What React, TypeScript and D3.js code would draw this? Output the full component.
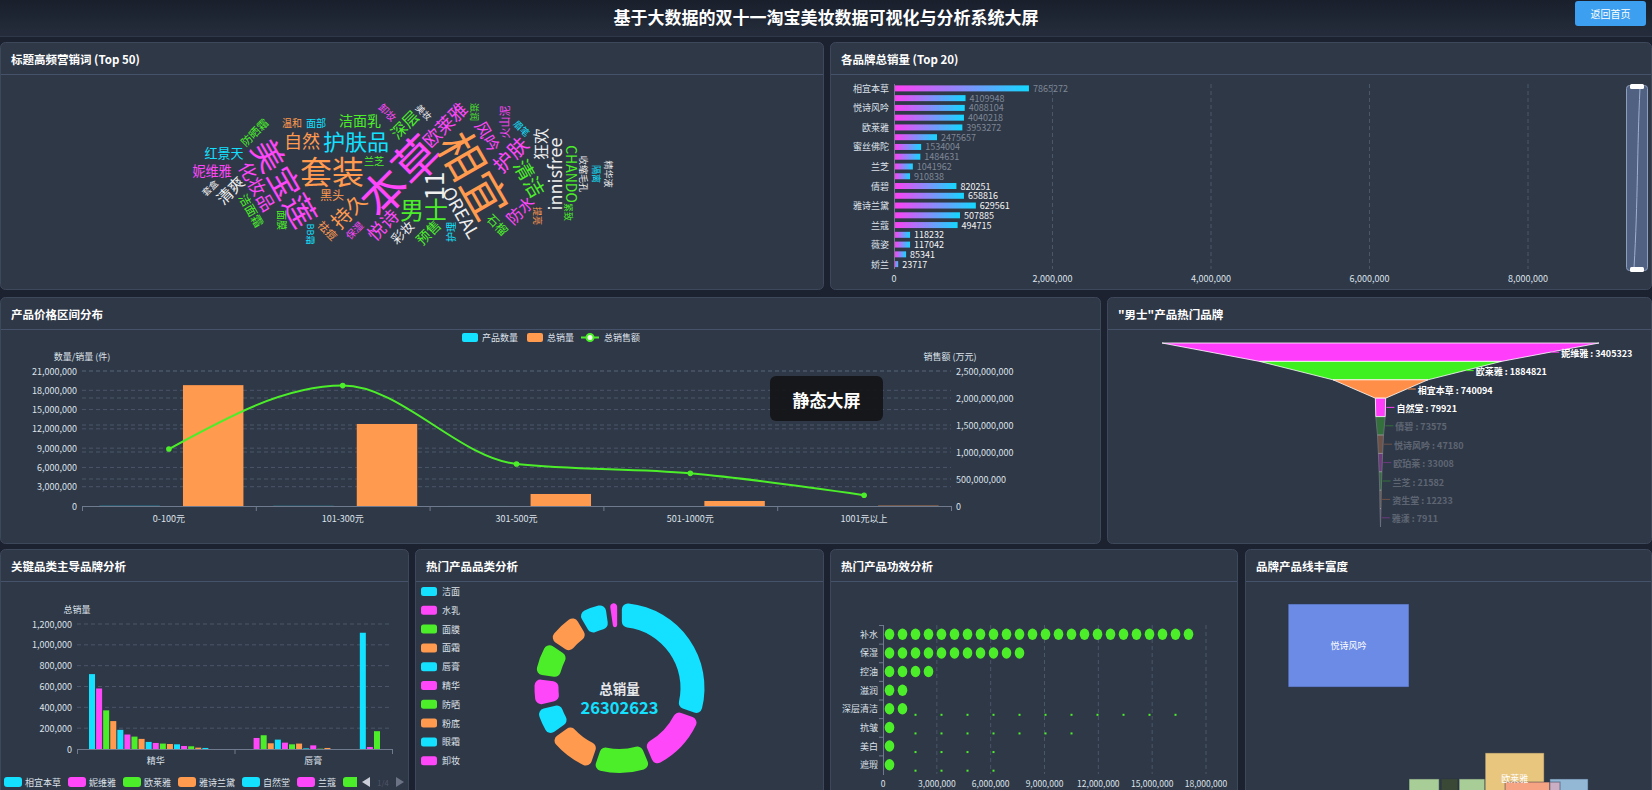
import React, { useMemo } from 'react';
import * as d3 from 'd3';

const FONT = '"Microsoft YaHei","Noto Sans CJK SC","Noto Sans",sans-serif';
const CYAN = '#13e1ff';
const MAGENTA = '#ff47fa';
const GREEN = '#4cee2a';
const ORANGE = '#ff9a4f';
const WHITE = '#eeeeee';
const PALETTE = [CYAN, MAGENTA, GREEN, ORANGE];
const HUES: Record<string, string> = { c: CYAN, m: MAGENTA, g: GREEN, o: ORANGE, w: WHITE };
const FUNNEL_COLORS = ['#ff3dfb', '#3ff021', '#ff8f48'];
const FUNNEL_ACTIVE = 4;

const PAGE_BG = '#1c2230';
const PANEL_BG = '#2f3847';
const PANEL_BORDER = '#3e485b';
const GRID = '#4b566b';
const AXIS_TEXT = '#dde2ea';
const AXIS_LINE = '#6f7a8e';

// ---------------- data ----------------
const pageTitle = '基于大数据的双十一淘宝美妆数据可视化与分析系统大屏';
const backLabel = '返回首页';
const panelTitles = ['标题高频营销词 (Top 50)', '各品牌总销量 (Top 20)', '产品价格区间分布', '"男士"产品热门品牌', '关键品类主导品牌分析', '热门产品品类分析', '热门产品功效分析', '品牌产品线丰富度'];

const cloudWords = ['本草', '相宜', '套装', '美宝莲', '11', '男士', '护肤品', '持久', '护肤', '清洁', '自然', '欧莱雅', 'innisfree', 'OREAL', '化妆品', '悦诗', '风吟', '深层', '狂欢', '防水', '清爽', '预售', '洁面乳', '妮维雅', 'CHANDO', '红景天', '彩妆', '黑头', '洁面霜', '石榴', '防晒霜', '火山泥', '兰芝', '面部', '温和', '护理', '祛痘', '面膜', '卸妆', '保湿', '美妆', '收缩毛孔', '眉笔', '提亮', '隔离', '套盒', 'BB霜', '精华液', '滋润', '紧致'];
const cloudFreq = [4468, 4425, 3104, 3087, 2521, 2330, 2140, 1952, 1940, 1933, 1751, 1745, 1738, 1731, 1726, 1720, 1553, 1547, 1541, 1536, 1530, 1362, 1355, 1263, 1350, 1258, 1254, 1166, 1160, 1155, 1068, 1063, 975, 971, 968, 965, 1060, 962, 960, 958, 874, 872, 871, 870, 869, 868, 867, 866, 865, 864];
const cloudAngles = [-45, 60, 0, 60, -90, 0, 0, -45, -45, 60, 0, -45, -90, 60, 60, -45, 60, -45, -90, -45, -45, -45, 0, 0, 90, 0, -45, 0, 60, 45, -45, -90, 0, 0, 0, -90, 45, 90, 45, -45, 45, 90, 45, 90, 90, -45, 90, 90, 90, 90];
const cloudHues = ['m', 'o', 'o', 'm', 'w', 'g', 'c', 'o', 'm', 'g', 'o', 'm', 'w', 'w', 'm', 'm', 'm', 'g', 'w', 'm', 'w', 'g', 'g', 'm', 'g', 'c', 'w', 'o', 'g', 'g', 'g', 'm', 'g', 'c', 'o', 'c', 'o', 'g', 'm', 'm', 'w', 'w', 'c', 'o', 'c', 'w', 'c', 'w', 'g', 'g'];

const brandNames = ['相宜本草', '美宝莲', '悦诗风吟', '妮维雅', '欧莱雅', '自然堂', '蜜丝佛陀', '佰草集', '兰芝', '美加净', '倩碧', '资生堂', '雅诗兰黛', '植村秀', '兰蔻', '欧珀莱', '薇姿', '雅漾', '娇兰'];
const brandSales = [7865272, 4109948, 4088104, 4040218, 3953272, 2475657, 1534004, 1484631, 1041962, 910838, 820251, 658816, 629561, 507885, 494715, 118232, 117042, 85341, 23717];
const brandBarShown = [1690000, 890000, 880000, 870000, 850000, 530000, 330000, 320000, 225000, 190000, 775000, 870000, 1020000, 820000, 790000, 190000, 190000, 140000, 40000];

const priceRanges = ['0-100元', '101-300元', '301-500元', '501-1000元', '1001元以上'];
const productCounts = [28456, 19873, 4210, 2104, 986];
const totalVolume = [18800000, 12760000, 1870000, 780000, 50000];
const totalRevenue = [1055000000, 2230000000, 778000000, 605000000, 200000000];
const priceLegend = ['产品数量', '总销量', '总销售额'];

const menBrands = ['妮维雅', '欧莱雅', '相宜本草', '自然堂', '倩碧', '悦诗风吟', '欧珀莱', '兰芝', '资生堂', '雅漾'];
const menSales = [3405323, 1884821, 740094, 79921, 73575, 47180, 33008, 21582, 12233, 7911];

const keyCategories = ['精华', '唇膏'];
const keyBrands = ['相宜本草', '妮维雅', '欧莱雅', '雅诗兰黛', '自然堂', '兰蔻', '美宝莲', '悦诗风吟', '倩碧', '兰芝', '资生堂', '蜜丝佛陀', '佰草集', '植村秀', '娇兰', '薇姿', '美加净', '雅漾', '欧珀莱'];
const essenceSales = [719000, 581000, 371000, 268000, 184000, 139000, 119000, 97000, 68000, 58000, 52000, 48000, 45000, 29000, 26000, 13000, 10000, 0, 0];
const lipstickSales = [0, 106000, 132000, 55000, 90000, 61000, 45000, 52000, 6000, 35000, 3000, 10000, 0, 0, 0, 0, 1116000, 19000, 171000];
const keyLegendPage = '1/4';

const productCats = ['洁面', '水乳', '面膜', '面霜', '唇膏', '精华', '防晒', '粉底', '眼霜', '卸妆'];
const productCatSales = [8449000, 3527000, 3086000, 2571000, 1543000, 1469000, 1837000, 1837000, 1543000, 440623];
const donutLabel = '总销量';

const efficacyNames = ['补水', '保湿', '控油', '滋润', '深层清洁', '抗皱', '美白', '遮瑕'];
const efficacySales = [17300000, 7950000, 2900000, 1450000, 16700000, 10900000, 6500000, 6500000];
const efficacyRendered = [24, 11, 4, 2, 2, 1, 1, 1];

const lineTileBrands = ['悦诗风吟', '兰芝', '雪花秀', '后', '美宝莲', '欧莱雅', '兰蔻', '资生堂', '植村秀'];
const lineTileX0 = [0.106, 0.403, 0.482, 0.526, 0.590, 0.590, 0.639, 0.749, 0.749];
const lineTileX1 = [0.403, 0.477, 0.523, 0.590, 0.614, 0.735, 0.774, 0.843, 0.774];
const lineTileY0 = [0.228, 0.954, 0.954, 0.954, 0.954, 0.846, 0.967, 0.954, 0.967];
const lineTileY1 = [0.573, 1.1, 1.1, 1.1, 1.1, 1.062, 1.1, 1.1, 1.1];
const lineTileColors = ['#6b8be6', '#a8cd97', '#3a4935', '#a8cd97', '#ecd67b', '#e9c67e', '#f5a382', '#92b8d6', '#c9aec4'];

// ---------------- word cloud layout ----------------
type CloudItem = { text: string; size: number; rot: number; color: string };
type Placed = CloudItem & { x: number; y: number };

function layoutCloud(items: CloudItem[], bx: number, by: number, bw: number, bh: number, cxp: number, cyp: number, ell: number, t0: number): Placed[] {
  if (typeof document === 'undefined') return [];
  const cell = 2;
  const GW = Math.floor(bw / cell), GH = Math.floor(bh / cell);
  const grid = new Uint8Array(GW * GH);
  const canvas = document.createElement('canvas');
  const ctx = canvas.getContext('2d', { willReadFrequently: true }) as CanvasRenderingContext2D;
  const gcx = Math.round((cxp - bx) / cell), gcy = Math.round((cyp - by) / cell);
  const out: Placed[] = [];
  for (const it of items) {
    const font = `${it.size}px ${FONT}`;
    ctx.setTransform(1, 0, 0, 1, 0, 0);
    ctx.font = font;
    const tw = ctx.measureText(it.text).width;
    const th = it.size * 1.4;
    const a = (it.rot * Math.PI) / 180;
    let w = Math.ceil(Math.abs(tw * Math.cos(a)) + Math.abs(th * Math.sin(a))) + 6;
    let h = Math.ceil(Math.abs(tw * Math.sin(a)) + Math.abs(th * Math.cos(a))) + 6;
    w += w % 2; h += h % 2;
    canvas.width = w; canvas.height = h;
    ctx.setTransform(1, 0, 0, 1, 0, 0);
    ctx.clearRect(0, 0, w, h);
    ctx.font = font; ctx.textAlign = 'center'; ctx.textBaseline = 'middle'; ctx.fillStyle = '#000';
    ctx.translate(w / 2, h / 2); ctx.rotate(a); ctx.fillText(it.text, 0, 0);
    const img = ctx.getImageData(0, 0, w, h).data;
    const core = new Set<number>();
    const dil = new Set<number>();
    const hx = w / 2, hy = h / 2;
    for (let y = 0; y < h; y++) for (let x = 0; x < w; x++) {
      if (img[(y * w + x) * 4 + 3] > 40) {
        const cx = Math.floor((x - hx) / cell), cy = Math.floor((y - hy) / cell);
        core.add((cx + 1000) * 4000 + (cy + 1000));
        for (let dy = -1; dy <= 1; dy++) for (let dx = -1; dx <= 1; dx++) dil.add((cx + dx + 1000) * 4000 + (cy + dy + 1000));
      }
    }
    const coreArr: number[] = []; core.forEach(k => coreArr.push(Math.floor(k / 4000) - 1000, (k % 4000) - 1000));
    const dilArr: number[] = []; dil.forEach(k => dilArr.push(Math.floor(k / 4000) - 1000, (k % 4000) - 1000));
    const fits = (px: number, py: number) => {
      for (let i = 0; i < coreArr.length; i += 2) {
        const x = px + coreArr[i], y = py + coreArr[i + 1];
        if (x < 0 || y < 0 || x >= GW || y >= GH) return false;
        if (grid[y * GW + x]) return false;
      }
      return true;
    };
    const maxR = Math.ceil(GW / ell) + 2;
    let done = false;
    for (let r = 0; r < maxR && !done; r++) {
      const n = r === 0 ? 1 : Math.ceil(Math.PI * r * (1 + ell));
      for (let i = 0; i < n; i++) {
        const t = t0 + (2 * Math.PI * i) / n;
        const px = gcx + Math.round(r * ell * Math.cos(t));
        const py = gcy + Math.round(r * Math.sin(t));
        if (fits(px, py)) {
          for (let j = 0; j < dilArr.length; j += 2) {
            const x = px + dilArr[j], y = py + dilArr[j + 1];
            if (x >= 0 && y >= 0 && x < GW && y < GH) grid[y * GW + x] = 1;
          }
          out.push({ ...it, x: bx + px * cell, y: by + py * cell });
          done = true;
          break;
        }
      }
    }
  }
  return out;
}

const fmt = d3.format(',');

function Panel({ x, y, w, h, title }: { x: number; y: number; w: number; h: number; title: string }) {
  return (
    <g>
      <rect x={x + 0.5} y={y + 0.5} width={w - 1} height={h - 1} rx={5} fill={PANEL_BG} stroke={PANEL_BORDER} />
      <line x1={x + 1} x2={x + w - 1} y1={y + 32.5} y2={y + 32.5} stroke="#46516a" />
      <text x={x + 11} y={y + 17} dominantBaseline="central" fill="#fff" fontSize={11.5} fontWeight="bold">{title}</text>
    </g>
  );
}

export default function App() {
  const cloud = useMemo(() => {
    const sz = d3.scaleLinear().domain([d3.min(cloudFreq)!, d3.max(cloudFreq)!]).range([9, 46]);
    const items: CloudItem[] = cloudWords.map((t, i) => ({ text: t, size: sz(cloudFreq[i]), rot: cloudAngles[i], color: HUES[cloudHues[i]], f: cloudFreq[i] } as any));
    items.sort((a: any, b: any) => b.f - a.f);
    return layoutCloud(items, 4, 76, 816, 212, 398, 174, 3.0, 0);
  }, []);

  // P2 brand bars
  const bX = d3.scaleLinear().domain([0, 8e6]).range([894, 1528]);
  const bY = d3.scaleBand<string>().domain(brandNames).range([83.5, 269]);

  // P3 price
  const pX = d3.scaleBand<string>().domain(priceRanges).range([82, 951]);
  const pYL = d3.scaleLinear().domain([0, 21e6]).range([506, 371]);
  const pYR = d3.scaleLinear().domain([0, 2.5e9]).range([506, 371]);
  const pbw = pX.bandwidth();
  const barW = (pbw * 0.8) / 2.3;
  const revLine = d3.line<number>().x((_, i) => pX(priceRanges[i])! + pbw / 2).y(v => pYR(v)).curve(d3.curveMonotoneX)(totalRevenue) || '';

  // P4 funnel
  const fW = d3.scaleLinear().domain([0, d3.max(menSales)!]).range([0, 437]);
  const fY = d3.scaleBand<number>().domain(d3.range(menSales.length)).range([343, 527]);
  const fcx = 1380.5;

  // P5 grouped bars
  const kX = d3.scaleBand<string>().domain(keyCategories).range([77, 392]);
  const kIn = d3.scaleBand<number>().domain(d3.range(keyBrands.length)).range([12, kX.bandwidth() - 12]).paddingInner(0.15);
  const kY = d3.scaleLinear().domain([0, 1.2e6]).range([749, 624]);
  const keySeries = [essenceSales, lipstickSales];
  const LEGEND_CLIP = 357;
  let lx = 4;
  const keyLegend = keyBrands.map((n, i) => { const x = lx; lx += 21 + n.length * 9 + 7; return { n, x, i }; }).filter(d => d.x < LEGEND_CLIP);

  // P6 donut
  const pie = d3.pie<number>().sort(null).padAngle(0.045)(productCatSales);
  const arcGen = d3.arc<d3.PieArcDatum<number>>().innerRadius(61).outerRadius(85).cornerRadius(6);
  const donutTotal = d3.sum(productCatSales);

  // P7 efficacy
  const eX = d3.scaleLinear().domain([0, 18e6]).range([883, 1206]);
  const eY = d3.scaleBand<string>().domain(efficacyNames).range([625, 774]);
  const pitch = 13;

  // P8 tiles
  const tX = d3.scaleLinear().domain([0, 1]).range([1245, 1652]);
  const tY = d3.scaleLinear().domain([0, 1]).range([549, 790]);

  const panels = [
    { x: 0, y: 42, w: 824, h: 248 },
    { x: 830, y: 42, w: 822, h: 248 },
    { x: 0, y: 297, w: 1101, h: 247 },
    { x: 1107, y: 297, w: 545, h: 247 },
    { x: 0, y: 549, w: 409, h: 260 },
    { x: 415, y: 549, w: 409, h: 260 },
    { x: 830, y: 549, w: 408, h: 260 },
    { x: 1245, y: 549, w: 407, h: 260 },
  ];

  return (
    <svg width={1652} height={790} style={{ position: 'absolute', left: 0, top: 0, fontFamily: FONT }}>
      <defs>
        <linearGradient id="hdr" x1="0" y1="0" x2="0" y2="1">
          <stop offset="0" stopColor="#191f2b" />
          <stop offset="1" stopColor="#252d3c" />
        </linearGradient>
        <linearGradient id="brandGrad" x1="0" y1="0" x2="1" y2="0">
          <stop offset="0" stopColor="#ff3ff5" />
          <stop offset="1" stopColor="#12d8ff" />
        </linearGradient>
        <clipPath id="keyLegendClip"><rect x={0} y={770} width={LEGEND_CLIP} height={25} /></clipPath>
        <clipPath id="p8clip"><rect x={1246} y={583} width={405} height={210} /></clipPath>
      </defs>
      <rect x={0} y={0} width={1652} height={790} fill={PAGE_BG} />
      <rect x={0} y={0} width={1652} height={36} fill="url(#hdr)" />
      <line x1={0} x2={1652} y1={36.5} y2={36.5} stroke="#2f3849" />
      <text x={826} y={16} textAnchor="middle" dominantBaseline="central" fill="#fff" fontSize={17} fontWeight="bold">{pageTitle}</text>
      <rect x={1575} y={1} width={71} height={25} rx={3} fill="#3d9ff0" />
      <text x={1610.5} y={13.5} textAnchor="middle" dominantBaseline="central" fill="#fff" fontSize={10}>{backLabel}</text>

      {panels.map((p, i) => <Panel key={i} {...p} title={panelTitles[i]} />)}

      {/* P1 word cloud */}
      <g>
        {cloud.map((w, i) => (
          <text key={i} transform={`translate(${w.x},${w.y}) rotate(${w.rot})`} textAnchor="middle" dominantBaseline="central" fontSize={w.size} fill={w.color}>{w.text}</text>
        ))}
      </g>

      {/* P2 brand totals */}
      <g>
        {bX.ticks(4).map(t => (
          <g key={t}>
            {t > 0 && <line x1={bX(t)} x2={bX(t)} y1={84} y2={269} stroke={GRID} strokeDasharray="4 3" />}
            <text x={bX(t)} y={278} textAnchor="middle" dominantBaseline="central" fontSize={9} fill={AXIS_TEXT}>{fmt(t)}</text>
          </g>
        ))}
        <line x1={894.5} x2={894.5} y1={84} y2={269} stroke={AXIS_LINE} />
        {brandNames.map((n, i) => {
          const yc = bY(n)! + bY.bandwidth() / 2;
          const shown = brandBarShown[i];
          const settled = shown >= brandSales[i] * 0.5;
          return (
            <g key={n}>
              <rect x={bX(0) + 1} y={yc - 3} width={bX(shown) - bX(0)} height={6} fill="url(#brandGrad)" />
              <text x={bX(shown) + 5} y={yc} dominantBaseline="central" fontSize={9} fill={settled ? '#f4f4f4' : '#7e8796'}>{brandSales[i]}</text>
              {i % 2 === 0 && <text x={889} y={yc} textAnchor="end" dominantBaseline="central" fontSize={9} fill={AXIS_TEXT}>{n}</text>}
            </g>
          );
        })}
        <rect x={1626.5} y={85.5} width={21} height={185} rx={3} fill="#56688c" fillOpacity={0.85} stroke="#8d9dbd" />
        <path d="M1640,88 C1637,150 1638,200 1634,268" stroke="#9fb0d0" fill="none" strokeWidth={1} />
        <rect x={1630} y={84} width={14} height={5} rx={1.5} fill="#fff" />
        <rect x={1630} y={267} width={14} height={5} rx={1.5} fill="#fff" />
      </g>

      {/* P3 price distribution */}
      <g>
        {d3.range(0, 21e6 + 1, 3e6).map(t => (
          <g key={'l' + t}>
            {t > 0 && <line x1={82} x2={951} y1={pYL(t)} y2={pYL(t)} stroke={GRID} strokeDasharray="4 3" />}
            <text x={77} y={pYL(t)} textAnchor="end" dominantBaseline="central" fontSize={9} fill={AXIS_TEXT}>{fmt(t)}</text>
          </g>
        ))}
        {pYR.ticks(5).map(t => (
          <g key={'r' + t}>
            {t > 0 && <line x1={82} x2={951} y1={pYR(t)} y2={pYR(t)} stroke={GRID} strokeDasharray="4 3" />}
            <text x={956} y={pYR(t)} dominantBaseline="central" fontSize={9} fill={AXIS_TEXT}>{fmt(t)}</text>
          </g>
        ))}
        <text x={82} y={356} textAnchor="middle" dominantBaseline="central" fontSize={9} fill={AXIS_TEXT}>数量/销量 (件)</text>
        <text x={950} y={356} textAnchor="middle" dominantBaseline="central" fontSize={9} fill={AXIS_TEXT}>销售额 (万元)</text>
        <line x1={82} x2={951} y1={506.5} y2={506.5} stroke={AXIS_LINE} />
        {priceRanges.map((c, i) => {
          const x0 = pX(c)!;
          return (
            <g key={c}>
              <line x1={x0 + 0.5} x2={x0 + 0.5} y1={506} y2={511} stroke={AXIS_LINE} />
              <text x={x0 + pbw / 2} y={518} textAnchor="middle" dominantBaseline="central" fontSize={9} fill={AXIS_TEXT}>{c}</text>
              <rect x={x0 + pbw * 0.1} y={pYL(productCounts[i])} width={barW} height={506 - pYL(productCounts[i])} fill={CYAN} />
              <rect x={x0 + pbw * 0.1 + barW * 1.3 + 5} y={pYL(totalVolume[i])} width={barW} height={506 - pYL(totalVolume[i])} fill={ORANGE} />
            </g>
          );
        })}
        <line x1={951.5} x2={951.5} y1={506} y2={511} stroke={AXIS_LINE} />
        <path d={revLine} fill="none" stroke={GREEN} strokeWidth={2} />
        {totalRevenue.map((v, i) => <circle key={i} cx={pX(priceRanges[i])! + pbw / 2} cy={pYR(v)} r={2.8} fill={GREEN} />)}
        {/* legend */}
        <rect x={462} y={333} width={16} height={9} rx={2} fill={CYAN} />
        <text x={482} y={337.5} dominantBaseline="central" fontSize={9} fill={AXIS_TEXT}>{priceLegend[0]}</text>
        <rect x={527} y={333} width={16} height={9} rx={2} fill={ORANGE} />
        <text x={547} y={337.5} dominantBaseline="central" fontSize={9} fill={AXIS_TEXT}>{priceLegend[1]}</text>
        <line x1={581} x2={599} y1={337.5} y2={337.5} stroke={GREEN} strokeWidth={2} />
        <circle cx={590} cy={337.5} r={3.5} fill="#f4fff0" stroke={GREEN} strokeWidth={2} />
        <text x={604} y={337.5} dominantBaseline="central" fontSize={9} fill={AXIS_TEXT}>{priceLegend[2]}</text>
        <rect x={770} y={376} width={113} height={45} rx={6} fill="#131518" fillOpacity={0.92} />
        <text x={826.5} y={399.5} textAnchor="middle" dominantBaseline="central" fontSize={17} fontWeight="bold" fill="#fff">静态大屏</text>
      </g>

      {/* P4 funnel */}
      <g>
        {menSales.map((v, i) => {
          const top = fY(i)!, bot = top + fY.bandwidth();
          const wt = fW(v), wb = i < menSales.length - 1 ? fW(menSales[i + 1]) : 0;
          const pts = [[fcx - wt / 2, top], [fcx + wt / 2, top], [fcx + wb / 2, bot], [fcx - wb / 2, bot]].map(p => p.join(',')).join(' ');
          const active = i < FUNNEL_ACTIVE;
          const color = FUNNEL_COLORS[i % 3];
          const mx = fcx + (wt + wb) / 4;
          const my = (top + bot) / 2;
          return (
            <g key={i} opacity={active ? 1 : 0.3}>
              <polygon points={pts} fill={color} stroke="rgba(255,255,255,0.8)" strokeWidth={1} />
              <line x1={mx + 1} x2={mx + 9} y1={my} y2={my} stroke={color} />
              <text x={mx + 11} y={my + 1} dominantBaseline="central" fontSize={9} fontWeight="bold" fill={active ? '#fff' : '#c9ced8'}>{`${menBrands[i]} : ${v}`}</text>
            </g>
          );
        })}
      </g>

      {/* P5 key categories */}
      <g>
        {kY.ticks(6).map(t => (
          <g key={t}>
            {t > 0 && <line x1={77} x2={392} y1={kY(t)} y2={kY(t)} stroke={GRID} strokeDasharray="4 3" />}
            <text x={72} y={kY(t)} textAnchor="end" dominantBaseline="central" fontSize={9} fill={AXIS_TEXT}>{fmt(t)}</text>
          </g>
        ))}
        <text x={77} y={609} textAnchor="middle" dominantBaseline="central" fontSize={9} fill={AXIS_TEXT}>总销量</text>
        <line x1={77} x2={392} y1={749.5} y2={749.5} stroke={AXIS_LINE} />
        {keyCategories.map((c, ci) => {
          const x0 = kX(c)!;
          return (
            <g key={c}>
              <line x1={x0 + 0.5} x2={x0 + 0.5} y1={749} y2={754} stroke={AXIS_LINE} />
              <text x={x0 + kX.bandwidth() / 2} y={760} textAnchor="middle" dominantBaseline="central" fontSize={9} fill={AXIS_TEXT}>{c}</text>
              {keyBrands.map((b, si) => {
                const v = keySeries[ci][si];
                return <rect key={b} x={x0 + kIn(si)!} y={kY(v)} width={kIn.bandwidth()} height={749 - kY(v)} fill={PALETTE[si % 4]} />;
              })}
            </g>
          );
        })}
        <line x1={392.5} x2={392.5} y1={749} y2={754} stroke={AXIS_LINE} />
        <g clipPath="url(#keyLegendClip)">
          {keyLegend.map(({ n, x, i }) => (
            <g key={n}>
              <rect x={x} y={777} width={18} height={10} rx={3} fill={PALETTE[i % 4]} />
              {x + 21 + n.length * 9 <= LEGEND_CLIP && <text x={x + 21} y={782} dominantBaseline="central" fontSize={9} fill={AXIS_TEXT}>{n}</text>}
            </g>
          ))}
        </g>
        <path d="M362,782 L370,777 L370,787 Z" fill="#c9ced8" />
        <text x={383} y={782} textAnchor="middle" dominantBaseline="central" fontSize={7.5} fill="#4f5768">{keyLegendPage}</text>
        <path d="M404,782 L396,777 L396,787 Z" fill="#6b7385" />
      </g>

      {/* P6 donut */}
      <g>
        {productCats.map((c, i) => (
          <g key={c}>
            <rect x={421} y={587 + i * 18.8} width={16} height={9} rx={2.5} fill={PALETTE[i % 4]} />
            <text x={442} y={591.5 + i * 18.8} dominantBaseline="central" fontSize={9} fill={AXIS_TEXT}>{c}</text>
          </g>
        ))}
        <g transform="translate(619.5,688)">
          {pie.map((d, i) => <path key={i} d={arcGen(d) || ''} fill={PALETTE[i % 4]} />)}
          <text x={0} y={0} textAnchor="middle" dominantBaseline="central" fontSize={13.5} fontWeight="bold" fill="#e6e8ec">{donutLabel}</text>
          <text x={0} y={19} textAnchor="middle" dominantBaseline="central" fontSize={16.5} fontWeight="bold" fill={CYAN}>{donutTotal}</text>
        </g>
      </g>

      {/* P7 efficacy pictorial */}
      <g>
        {d3.range(0, 18e6 + 1, 3e6).map(t => (
          <g key={t}>
            {t > 0 && <line x1={eX(t)} x2={eX(t)} y1={625} y2={774} stroke={GRID} strokeDasharray="4 3" />}
            <text x={eX(t)} y={783} textAnchor="middle" dominantBaseline="central" fontSize={8.5} fill={AXIS_TEXT}>{fmt(t)}</text>
          </g>
        ))}
        <line x1={883.5} x2={883.5} y1={625} y2={775} stroke={AXIS_LINE} />
        {efficacyNames.map((n, i) => {
          const y0 = eY(n)!;
          const yc = y0 + eY.bandwidth() / 2;
          const count = Math.round((eX(efficacySales[i]) - eX(0)) / pitch);
          const done = efficacyRendered[i];
          return (
            <g key={n}>
              <line x1={879} x2={883} y1={y0 + 0.5} y2={y0 + 0.5} stroke={AXIS_LINE} />
              <text x={878} y={yc} textAnchor="end" dominantBaseline="central" fontSize={9} fill={AXIS_TEXT}>{n}</text>
              {d3.range(count).map(k => {
                const cx = eX(0) + pitch / 2 + k * pitch;
                if (k < done) return <ellipse key={k} cx={cx} cy={yc} rx={4.8} ry={5.7} fill={GREEN} />;
                if (k % 2 === 0) return <rect key={k} x={cx - 1} y={yc + 5} width={2} height={2} fill={GREEN} />;
                return null;
              })}
            </g>
          );
        })}
      </g>

      {/* P8 tiles */}
      <g clipPath="url(#p8clip)">
        {lineTileBrands.map((n, i) => {
          const x0 = tX(lineTileX0[i]), x1 = tX(lineTileX1[i]), y0 = tY(lineTileY0[i]), y1 = tY(lineTileY1[i]);
          return <rect key={n} x={x0} y={y0} width={x1 - x0} height={y1 - y0} fill={lineTileColors[i]} stroke="rgba(40,50,70,0.5)" strokeWidth={1} />;
        })}
        {lineTileBrands.map((n, i) => {
          const x0 = tX(lineTileX0[i]), x1 = tX(lineTileX1[i]), y0 = tY(lineTileY0[i]), y1 = tY(lineTileY1[i]);
          const visH = Math.min(y1, 790) - y0;
          if (x1 - x0 < 50 || visH < 30) return null;
          return <text key={'t' + n} x={(x0 + x1) / 2} y={Math.min((y0 + y1) / 2, 778)} textAnchor="middle" dominantBaseline="central" fontSize={9} fill="#fff">{n}</text>;
        })}
      </g>
    </svg>
  );
}
